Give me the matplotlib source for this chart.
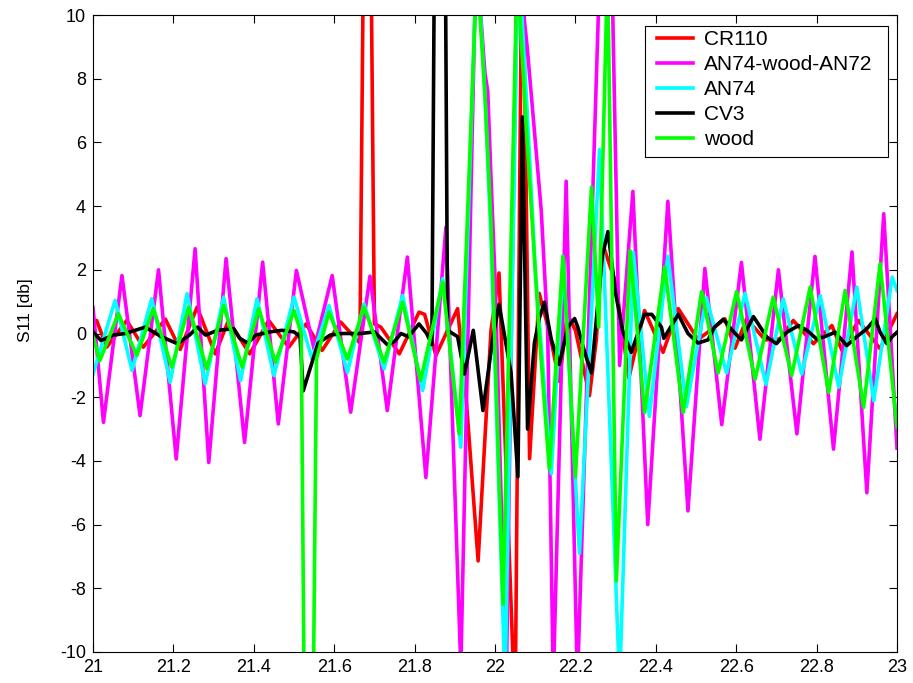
import matplotlib
matplotlib.use("Agg")
import matplotlib.pyplot as plt
from matplotlib.patches import Rectangle

plt.rcParams['font.family'] = ['Liberation Sans', 'DejaVu Sans']

# frequency axis and reflection curves for each sample
cr110_x = [21.000, 21.009, 21.034, 21.084, 21.125, 21.180, 21.217, 21.259, 21.304, 21.337,
           21.390, 21.437, 21.487, 21.530, 21.570, 21.616, 21.664, 21.682, 21.700, 21.716,
           21.762, 21.811, 21.825, 21.853, 21.907, 21.928, 21.958, 21.990, 22.010, 22.050,
           22.068, 22.086, 22.110, 22.135, 22.160, 22.180, 22.200, 22.235, 22.252, 22.268,
           22.300, 22.333, 22.372, 22.418, 22.456, 22.505, 22.546, 22.572, 22.597, 22.626,
           22.672, 22.709, 22.742, 22.792, 22.838, 22.863, 22.904, 22.958, 23.000]
cr110_y = [0.30, 0.41, -0.43, 0.41, -0.43, 0.45, -0.50, 0.83, -0.64, 0.41,
           -0.64, 0.41, -0.43, 0.30, -0.53, 0.36, -0.30, 25.0, 0.30, 0.20,
           -0.64, 0.67, 0.60, -0.69, 0.78, -2.00, -7.14, 0.10, 1.90, -12.0,
           14.0, -3.93, 1.26, 0.06, -1.50, 0.60, 0.10, -1.95, -0.20, 2.80,
           1.60, -1.40, 0.72, -0.59, 0.78, -0.19, 0.20, 0.46, -0.46, 0.46,
           -0.20, -0.17, 0.41, -0.32, 0.25, -0.53, 0.41, -0.48, 0.62]

an74w_x = [21.000, 21.026, 21.072, 21.117, 21.163, 21.207, 21.254, 21.288, 21.331, 21.377,
           21.422, 21.461, 21.506, 21.550, 21.595, 21.641, 21.689, 21.732, 21.782, 21.828,
           21.878, 21.915, 21.953, 21.975, 21.982, 21.990, 22.000, 22.028, 22.055, 22.080,
           22.115, 22.131, 22.145, 22.177, 22.205, 22.262, 22.293, 22.310, 22.343, 22.380,
           22.430, 22.480, 22.522, 22.564, 22.613, 22.659, 22.705, 22.751, 22.796, 22.842,
           22.888, 22.925, 22.967, 23.000]
an74w_y = [0.82, -2.79, 1.82, -2.58, 2.00, -3.94, 2.66, -4.05, 2.35, -3.42,
           2.24, -2.84, 1.98, -0.50, 1.82, -2.47, 1.80, -2.42, 2.40, -4.52,
           3.34, -10.5, 12.0, 8.17, 7.60, 4.90, 1.77, -11.0, 12.0, 9.0,
           3.87, 0.10, -11.0, 4.78, -11.0, 12.0, 10.0, -1.00, 4.46, -6.00,
           4.15, -5.57, 2.04, -2.86, 2.23, -3.32, 2.00, -3.15, 2.42, -3.63,
           2.56, -5.00, 3.76, -3.60]

an74_x = [21.000, 21.055, 21.097, 21.146, 21.192, 21.234, 21.279, 21.325, 21.367, 21.408,
          21.450, 21.500, 21.545, 21.587, 21.633, 21.674, 21.724, 21.770, 21.820, 21.870,
          21.915, 21.955, 21.975, 21.990, 22.025, 22.058, 22.080, 22.100, 22.140, 22.170,
          22.210, 22.260, 22.310, 22.344, 22.384, 22.430, 22.476, 22.526, 22.576, 22.622,
          22.674, 22.717, 22.763, 22.809, 22.855, 22.900, 22.942, 22.988, 23.000]
an74_y = [-1.27, 1.04, -1.16, 1.09, -1.53, 1.25, -1.58, 1.14, -1.48, 1.09,
          -1.32, 1.14, -0.80, 0.88, -1.22, 0.93, -1.11, 1.19, -1.79, 1.72,
          -3.57, 12.0, 7.50, 3.00, -11.0, 12.0, 7.00, 2.00, -4.40, 2.30,
          -6.90, 5.77, -11.0, 2.55, -2.60, 2.43, -2.30, 1.12, -1.24, 1.26,
          -1.60, 1.09, -1.27, 1.19, -1.69, 1.46, -2.11, 1.77, 1.35]

cv3_x = [21.000, 21.020, 21.050, 21.080, 21.130, 21.170, 21.210, 21.240, 21.260, 21.280,
         21.310, 21.350, 21.365, 21.385, 21.405, 21.440, 21.470, 21.500, 21.515, 21.523,
         21.545, 21.560, 21.590, 21.620, 21.666, 21.700, 21.732, 21.750, 21.766, 21.785,
         21.811, 21.830, 21.843, 21.8635, 21.882, 21.907, 21.924, 21.946, 21.970, 21.994,
         22.010, 22.040, 22.057, 22.068, 22.081, 22.098, 22.110, 22.123, 22.140, 22.160,
         22.181, 22.198, 22.206, 22.223, 22.240, 22.256, 22.267, 22.281, 22.300, 22.318,
         22.339, 22.372, 22.390, 22.414, 22.420, 22.456, 22.480, 22.505, 22.530, 22.546,
         22.568, 22.590, 22.613, 22.643, 22.676, 22.700, 22.726, 22.755, 22.776, 22.800,
         22.820, 22.846, 22.875, 22.900, 22.925, 22.946, 22.958, 22.975, 22.988, 23.000]
cv3_y = [0.05, -0.22, -0.05, 0.00, 0.20, -0.10, -0.32, -0.05, 0.20, -0.05,
         0.10, 0.15, -0.15, -0.30, -0.05, 0.05, 0.10, 0.05, -0.10, -1.80,
         -0.90, -0.30, -0.05, 0.00, 0.00, 0.05, -0.35, -0.25, 0.00, -0.10,
         0.30, 0.00, -0.35, 40.0, 0.10, -0.10, -1.27, 0.10, -2.42, -0.20,
         0.92, -1.24, -4.50, 6.80, -3.00, -0.30, 0.47, 0.98, -0.19, -0.97,
         0.20, 0.47, 0.20, -0.59, -1.24, 0.98, 2.43, 3.20, 1.26, 0.06,
         -0.59, 0.60, 0.60, 0.20, -0.15, 0.60, 0.00, -0.30, -0.20, 0.20,
         0.45, 0.10, -0.20, 0.53, -0.11, -0.32, 0.04, 0.25, 0.10, -0.17,
         -0.10, 0.04, -0.38, -0.10, 0.15, 0.46, 0.04, -0.32, -0.10, 0.04]

wood_x = [21.000, 21.017, 21.063, 21.109, 21.150, 21.196, 21.238, 21.283, 21.325, 21.371,
          21.412, 21.454, 21.500, 21.518, 21.527, 21.546, 21.556, 21.587, 21.633, 21.674,
          21.724, 21.770, 21.815, 21.870, 21.911, 21.955, 21.975, 21.990, 22.020, 22.055,
          22.080, 22.110, 22.135, 22.169, 22.200, 22.240, 22.258, 22.280, 22.302, 22.336,
          22.372, 22.422, 22.468, 22.514, 22.555, 22.601, 22.647, 22.692, 22.738, 22.784,
          22.830, 22.871, 22.917, 22.958, 23.000]
wood_y = [-0.10, -0.85, 0.62, -0.69, 0.78, -1.06, 0.83, -1.11, 0.88, -1.06,
          0.78, -0.90, 0.72, 0.00, -14.0, -14.0, -0.80, 0.67, -0.80, 0.83,
          -0.90, 0.98, -1.48, 1.61, -3.15, 11.5, 7.50, 3.50, -8.50, 11.5,
          6.00, 0.00, -4.25, 2.43, -4.50, 4.60, 0.20, 11.5, -7.77, 2.60,
          -2.48, 2.10, -2.48, 1.32, -1.24, 1.32, -1.44, 1.14, -1.32, 1.46,
          -1.85, 1.35, -2.32, 2.19, -2.95]

labels = ['CR110', 'AN74-wood-AN72', 'AN74', 'CV3', 'wood']
colors = ['#ff0000', '#ff00ff', '#00ffff', '#000000', '#00ff00']
x_ticks = [21, 21.2, 21.4, 21.6, 21.8, 22, 22.2, 22.4, 22.6, 22.8, 23]
x_tick_labels = ['21', '21.2', '21.4', '21.6', '21.8', '22', '22.2', '22.4', '22.6', '22.8', '23']
y_ticks = [-10, -8, -6, -4, -2, 0, 2, 4, 6, 8, 10]

series = [(cr110_x, cr110_y), (an74w_x, an74w_y), (an74_x, an74_y),
          (cv3_x, cv3_y), (wood_x, wood_y)]

W, H = 913, 683
fig = plt.figure(figsize=(W / 100, H / 100), dpi=100)
ax_l, ax_r, ax_t, ax_b = 93, 897, 15, 652
ax = fig.add_axes([ax_l / W, (H - ax_b) / H, (ax_r - ax_l) / W, (ax_b - ax_t) / H])


def axes_frac(px, py):
    return (px - ax_l) / (ax_r - ax_l), (ax_b - py) / (ax_b - ax_t)


for (xs, ys), lab, col in zip(series, labels, colors):
    ax.plot(xs, ys, color=col, lw=2.6, label=lab, solid_joinstyle='round')

ax.set_xlim(21, 23)
ax.set_ylim(-10, 10)
ax.set_xticks(x_ticks)
ax.set_xticklabels(x_tick_labels)
ax.set_yticks(y_ticks)
ax.set_yticklabels([str(v) for v in y_ticks])
ax.tick_params(direction='in', top=True, right=True, length=6, width=0.8,
               labelsize=13, pad=5, colors='black')
for sp in ax.spines.values():
    sp.set_linewidth(0.8)
ax.set_ylabel('S11 [db]', fontsize=12.5)
ax.yaxis.set_label_coords(-(93 - 33) / (ax_r - ax_l), axes_frac(0, 310)[1])

# legend box drawn as its own frame, entries placed inside it
bx0, by0 = axes_frac(645, 157)
bx1, by1 = axes_frac(888, 26)
ax.add_patch(Rectangle((bx0, by0), bx1 - bx0, by1 - by0, transform=ax.transAxes,
                       facecolor='white', edgecolor='black', lw=0.8, zorder=4.5,
                       clip_on=False))
lx, ly = axes_frac(656.7, 30.0)
leg = ax.legend(loc='upper left', bbox_to_anchor=(lx, ly), borderaxespad=0,
                borderpad=0, frameon=False, fontsize=15, handlelength=1.73,
                handletextpad=0.55, labelspacing=0.286)
leg.set_zorder(5)

fig.savefig('out.png', dpi=100)
